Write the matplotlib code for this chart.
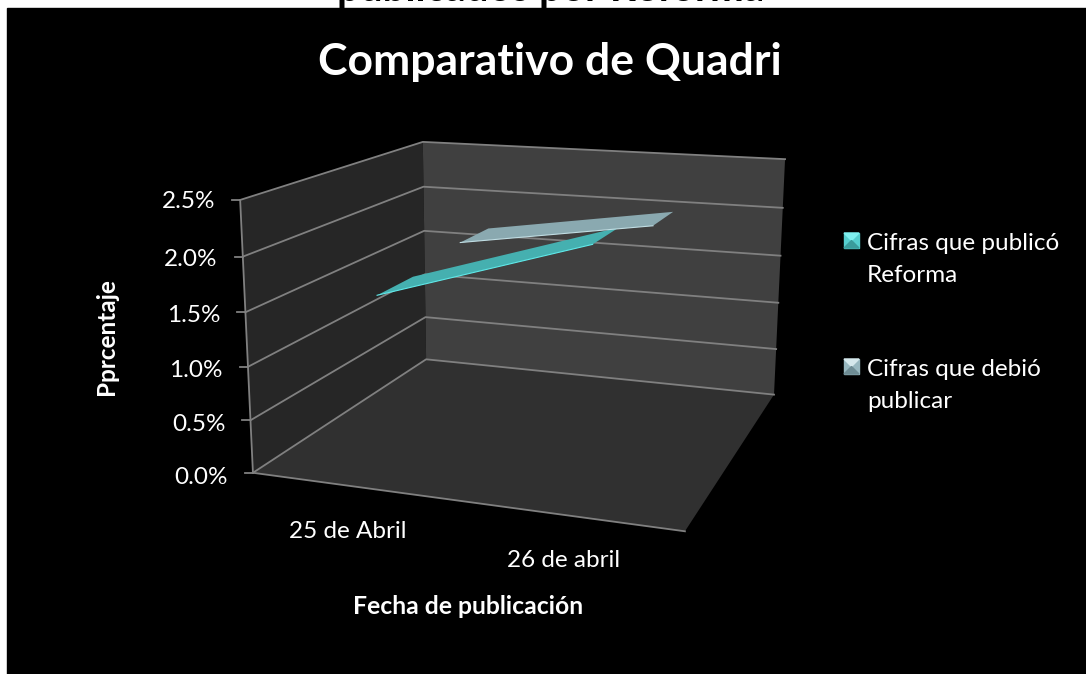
import numpy as np
import matplotlib
matplotlib.use('Agg')
import matplotlib.pyplot as plt
from matplotlib.patches import Polygon, Rectangle

plt.rcParams['font.family'] = ['Lato', 'DejaVu Sans']

title = 'Comparativo de Quadri'
clipped_title = 'publicados por Reforma'
categories = ['25 de Abril', '26 de abril']
series_names = [['Cifras que publicó', 'Reforma'], ['Cifras que debió', 'publicar']]
reforma = [1.6, 2.2]
debio = [1.7, 2.0]
y_ticks = [0.0, 0.5, 1.0, 1.5, 2.0, 2.5]

# wall corners in pixels: (x, value, depth) -> (u, v), x and depth run 0..1
corners_3d = [(0, 0, 0), (0, 2.5, 0), (0, 0, 1), (0, 2.5, 1), (1, 0, 1), (1, 2.5, 1), (1, 0, 0)]
corners_px = [(253, 473), (240, 200), (426, 359), (423, 142), (774, 395), (785, 159), (685, 531)]

A = []
b = []
for (x, y, z), (u, v) in zip(corners_3d, corners_px):
    A.append([x, y, z, 1, 0, 0, 0, 0, -u*x, -u*y, -u*z])
    A.append([0, 0, 0, 0, x, y, z, 1, -v*x, -v*y, -v*z])
    b += [u, v]
p = np.linalg.lstsq(np.array(A, float), np.array(b, float), rcond=None)[0]
P = np.append(p, 1).reshape(3, 4)


def proj(x, y, z):
    q = P @ np.array([x, y, z, 1.0])
    return q[0]/q[2], q[1]/q[2]


def face(pts, **kw):
    ax.add_patch(Polygon([proj(*t) for t in pts], closed=True, **kw))


fig = plt.figure(figsize=(10.86, 6.74), dpi=100, facecolor='white')
ax = fig.add_axes([0, 0, 1, 1])
ax.set_xlim(0, 1086)
ax.set_ylim(674, 0)
ax.axis('off')

ax.text(337, 1, clipped_title, color='black', fontsize=29, fontweight='bold', va='baseline', zorder=1)
ax.add_patch(Rectangle((7, 8), 1079, 666, color='black', zorder=2))

ax.text(550, 62, title, color='white', fontsize=32, fontweight='bold', ha='center', va='center', zorder=5)

ymax = y_ticks[-1]
face([(0, 0, 0), (1, 0, 0), (1, 0, 1), (0, 0, 1)], fc='#303030', ec='none', zorder=3)
face([(0, 0, 0), (0, ymax, 0), (0, ymax, 1), (0, 0, 1)], fc='#262626', ec='none', zorder=3)
face([(0, 0, 1), (0, ymax, 1), (1, ymax, 1), (1, 0, 1)], fc='#404040', ec='none', zorder=3)

grid = '#808080'
for t in y_ticks:
    pts = [proj(0, t, 0), proj(0, t, 1), proj(1, t, 1)]
    ax.plot(*zip(*pts), color=grid, lw=1.3, zorder=4)
    u, v = proj(0, t, 0)
    ax.plot([u-8, u], [v, v], color=grid, lw=1.3, zorder=4)
    ax.text(u-25, v+5-1.2*t, f'{t:.1f}%', color='white', fontsize=17.5, ha='right', va='center', zorder=5)
ax.plot(*zip(proj(0, 0, 0), proj(0, ymax, 0)), color=grid, lw=1.3, zorder=4)
ax.plot(*zip(proj(0, 0, 0), proj(1, 0, 0)), color=grid, lw=1.3, zorder=4)

xs = [0.25, 0.75]
for x, c in zip(xs, categories):
    u, v = proj(x, 0, 0)
    ax.text(u-5, v+45, c, color='white', fontsize=17.5, ha='center', va='center', zorder=5)

ribbons = [(reforma, 0.15, 0.35, '#45B0B0', '#5FE8E8'), (debio, 0.65, 0.85, '#8AA9B0', '#C0DDE3')]
for vals, z0, z1, fc, ec in ribbons:
    face([(xs[0], vals[0], z0), (xs[1], vals[1], z0), (xs[1], vals[1], z1), (xs[0], vals[0], z1)], fc=fc, ec='none', zorder=4.5)
    ax.plot(*zip(proj(xs[0], vals[0], z0), proj(xs[1], vals[1], z0)), color=ec, lw=0.8, zorder=4.6)

ax.text(468, 607, 'Fecha de publicación', color='white', fontsize=17.8, fontweight='bold', ha='center', va='center', zorder=5)
ax.text(106, 337, 'Pprcentaje', color='white', fontsize=17.5, fontweight='bold', rotation=90, ha='center', va='center', zorder=5)

legend_y = [240, 366]
tones = [('#7FF0F0', '#55CFCF', '#3A9C9C'), ('#D5E8EC', '#98B8C0', '#6E8C94')]
for ly, names, tone in zip(legend_y, series_names, tones):
    l, r, t, bt = 844, 859, ly-7, ly+8
    cx, cy = (l+r)/2, (t+bt)/2
    ax.add_patch(Rectangle((l, t), r-l, bt-t, color=tone[1], zorder=5))
    ax.add_patch(Polygon([(l, t), (r, t), (cx, cy)], color=tone[0], zorder=5))
    ax.add_patch(Polygon([(l, bt), (r, bt), (cx, cy)], color=tone[2], zorder=5))
    ax.text(867, ly+4, names[0], color='white', fontsize=17.5, va='center', zorder=5)
    ax.text(867, ly+35, names[1], color='white', fontsize=17.5, va='center', zorder=5)

fig.savefig('out.png', dpi=100)
